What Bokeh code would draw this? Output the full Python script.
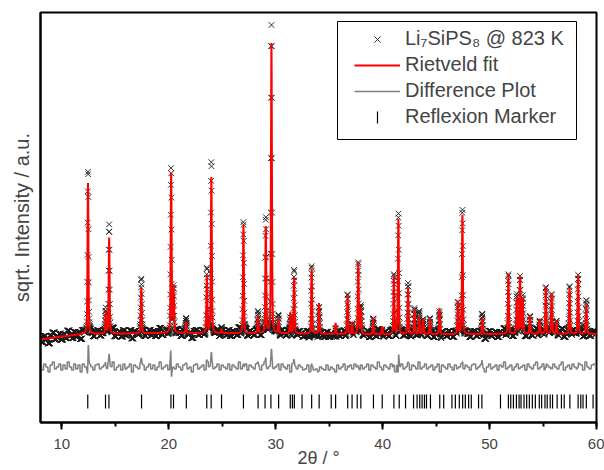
import numpy as np
from bokeh.plotting import figure
from bokeh.models import (Range1d, FixedTicker, SingleIntervalTicker, Legend, LegendItem,
                          BoxAnnotation)
from bokeh.embed import file_html
from bokeh.resources import INLINE

# ---------------- data ----------------
# background of the pattern (sqrt intensity, arbitrary units)
bg_pos = [8, 10, 12, 16, 20, 30, 40, 50, 60]
bg_level = [83, 86, 88.5, 89, 89.5, 89, 88, 88.5, 88.5]

# reflections: position (2theta), calculated and observed heights above background
peak_pos = [12.44, 14.10, 14.42, 17.43, 20.22, 20.45, 21.62, 23.56, 23.98, 24.93,
            26.98, 28.35, 29.07, 29.60, 30.26, 31.36, 31.72, 33.36, 34.05, 35.60,
            36.72, 37.15, 37.72, 37.97, 39.12, 39.95, 41.05, 41.47, 42.38, 42.98,
            43.42, 43.78, 44.42, 45.32, 47.04, 47.46, 49.32, 51.76, 52.55, 52.85,
            53.10, 53.78, 54.68, 55.26, 55.80, 56.26, 57.48, 58.28, 59.05]
calc_amp = [151, 21, 96, 46, 161, 45, 11, 58, 157, 4,
            109, 17, 107, 290, 15, 21, 57, 65, 31, 11,
            39, 12, 72, 26, 16, 8, 58, 116, 46, 25,
            18, 15, 16, 26, 33, 120, 16, 60, 36, 58,
            36, 18, 15, 47, 41, 13, 46, 59, 29]
obs_amp = [166, 24, 106, 52, 163, 45, 12, 60, 170, 4,
           112, 22, 111, 305, 16, 21, 64, 68, 32, 11,
           40, 12, 75, 26, 16, 8, 60, 119, 48, 26,
           18, 15, 16, 26, 34, 122, 22, 60, 36, 59,
           36, 18, 15, 50, 42, 13, 46, 61, 29]
obs_shift = [0.006, 0, 0, 0, -0.006, 0, 0, 0, 0, 0,
             0, 0, 0, 0, 0, 0, 0, 0, 0, 0,
             0, 0, 0, 0, 0, 0, 0, 0.006, 0, 0,
             0, 0, 0, 0, 0, 0, 0, 0, 0, 0,
             0, 0, 0, 0, 0, 0, 0, 0, 0]

# scatter of the measured points about the fit, one value per 0.2 deg (8.0 ... 60.0)
noise = [2, -3, 3, 0, -5, 2, 5, -2, 0, 3,
         -3, 2, -2, 5, 0, -3, 3, -2, 2, -5,
         3, 0, -2, 2, 0, -3, 2, 3, -2, 0,
         2, -2, 3, 0, 5, -3, 0, 2, -3, 3,
         -2, 0, 3, -5, 2, 0, -2, 3, 2, -3,
         0, 3, -2, 2, -3, 0, 5, -2, 0, 2,
         -3, 2, 0, -2, 3, 0, -3, 2, 3, -2,
         0, -5, 2, 3, -2, 0, 2, -3, 5, 0,
         2, -2, 0, 3, -3, 2, 0, -2, 3, -3,
         2, 0, -2, 5, -2, 0, 3, -3, 2, 0,
         -2, 3, 0, -3, 2, 5, -2, 0, 3, -2,
         0, 2, -3, 3, 0, -2, 2, -5, 3, 0,
         -2, 2, 0, -3, -2, 2, -5, 0, -3, -2,
         -5, 0, -2, -3, 2, -3, 0, -2, -5, 2,
         -2, 0, 3, -3, 0, 2, -2, 3, 0, -3,
         2, -2, 0, 3, -3, 2, 0, -2, 5, 0,
         -3, 2, 0, -2, 3, 0, -5, 2, 0, 3,
         -2, 0, 3, -3, 2, 0, -2, 5, -2, 0,
         3, -2, 0, 2, -3, 0, 3, -5, 2, 0,
         -2, 3, 0, -3, 2, -2, 0, 3, -2, 2,
         0, -3, 2, 3, -2, 0, 2, -2, -5, 0,
         3, -2, 0, 2, -3, 2, 0, 5, -2, 0,
         2, -3, 0, 3, -2, 0, 2, -3, 3, 0,
         -2, 2, 5, -2, 0, 3, -3, 2, 0, -2,
         3, 0, -2, 2, 5, -3, 0, 2, -2, 3,
         0, -2, 3, 2, -3, 5, 0, -2, 2, 3,
         0]

# Bragg reflection positions (markers)
reflex_pos = [12.42, 14.08, 14.40, 17.45, 20.20, 20.44, 21.64, 23.55, 23.96, 24.93,
              26.98, 28.35, 29.00, 29.55, 30.27, 31.36, 31.56, 31.74, 32.46, 33.36,
              34.06, 35.19, 35.60, 36.73, 37.14, 37.62, 37.96, 39.14, 39.96, 41.05,
              41.55, 42.14, 42.89, 43.22, 43.47, 43.69, 43.91, 44.10, 44.47, 45.34,
              45.71, 46.48, 46.80, 47.17, 47.48, 47.73, 48.04, 48.29, 48.97, 49.28,
              51.02, 51.76, 51.98, 52.23, 52.51, 52.76, 52.94, 53.22, 53.47, 53.72,
              54.00, 54.28, 54.65, 54.87, 55.18, 55.39, 55.67, 55.89, 56.32, 56.72,
              56.98, 57.51, 58.28, 58.53, 58.74, 59.05, 59.68]

diff_level = 55.5
marker_level = 21

# ---------------- profile ----------------
tt = np.arange(8.0, 60.0 + 1e-9, 0.015)
fwhm = 0.10
eta = 0.4


def profile(x, c):
    d = (x - c) / (fwhm / 2)
    return eta / (1 + d * d) + (1 - eta) * np.exp(-np.log(2) * d * d)


bg = np.interp(tt, bg_pos, bg_level)
calc = bg.copy()
obs = bg.copy()
for c, a_c, a_o, s in zip(peak_pos, calc_amp, obs_amp, obs_shift):
    calc += a_c * profile(tt, c)
    obs += a_o * profile(tt, c + s)
idx = np.clip(np.round((tt - 8.0) / 0.2).astype(int), 0, len(noise) - 1)
obs += np.array(noise, dtype=float)[idx]
diff = diff_level + (obs - calc)

# ---------------- figure ----------------
FONT = "Liberation Sans"
W, H = 604, 470
BL, BR, BT, BB = 40, 8, 12, 48
X0, X1, Y0, Y1 = 8, 60, 0, 410
fw = W - BL - BR
fh = H - BT - BB
p = figure(width=W, height=H, output_backend="svg", toolbar_location=None,
           x_range=Range1d(X0, X1), y_range=Range1d(Y0, Y1),
           min_border_left=BL, min_border_right=BR, min_border_top=BT, min_border_bottom=BB)
p.xgrid.visible = False
p.ygrid.visible = False
p.outline_line_color = "black"
p.outline_line_width = 2
p.background_fill_color = "white"
p.border_fill_color = "white"

r_obs = p.scatter(tt, obs, marker="x", size=8, line_color="#1a1a1a", line_width=0.9)
r_fit = p.line(tt, calc, line_color="#ff0000", line_width=2)
r_diff = p.line(tt, diff, line_color="#808080", line_width=1.5)
p.scatter(reflex_pos, [marker_level] * len(reflex_pos), marker="dash", angle=np.pi / 2,
          size=14, line_color="black", line_width=1.2)

xa = p.xaxis[0]
xa.ticker = SingleIntervalTicker(interval=10, num_minor_ticks=2)
xa.axis_line_width = 2
xa.major_tick_line_width = 2
xa.minor_tick_line_width = 2
xa.major_tick_out = 7
xa.major_tick_in = 0
xa.minor_tick_out = 4
xa.minor_tick_in = 0
xa.major_label_text_font = FONT
xa.major_label_text_font_size = "15px"
xa.major_label_standoff = 9
xa.axis_label = "2θ / °"
xa.axis_label_text_font = FONT
xa.axis_label_text_font_size = "18px"
xa.axis_label_text_font_style = "normal"
xa.axis_label_standoff = -4

ya = p.yaxis[0]
ya.ticker = FixedTicker(ticks=[])
ya.axis_line_width = 2
ya.major_tick_out = 0
ya.major_tick_in = 0
ya.minor_tick_out = 0
ya.minor_tick_in = 0
ya.major_label_standoff = 0
ya.axis_label = "sqrt. Intensity / a.u."
ya.axis_label_text_font = FONT
ya.axis_label_text_font_size = "20px"
ya.axis_label_text_font_style = "normal"
ya.axis_label_standoff = 8


def px_to_x(px):
    return X0 + (px - BL) * (X1 - X0) / fw


def px_to_y(py):
    return Y0 + (BT + fh - py) * (Y1 - Y0) / fh


# legend (the frame and the vertical reflexion tick are drawn by hand)
LEG_X, LEG_Y = 303, 283          # bottom-left corner of the item block, px from the frame's bottom-left
GW, GH, SP, PAD = 46, 22, 3, 11
dummy = p.scatter([reflex_pos[0]], [marker_level], marker="dash", line_alpha=0, fill_alpha=0)
legend = Legend(items=[
    LegendItem(label="Li₇SiPS₈ @ 823 K", renderers=[r_obs]),
    LegendItem(label="Rietveld fit", renderers=[r_fit]),
    LegendItem(label="Difference Plot", renderers=[r_diff]),
    LegendItem(label="Reflexion Marker", renderers=[dummy]),
], location=(LEG_X, LEG_Y))
legend.label_text_font = FONT
legend.label_text_font_size = "20px"
legend.glyph_width = GW
legend.glyph_height = GH
legend.label_height = GH
legend.spacing = SP
legend.padding = PAD
legend.margin = 0
legend.label_standoff = 5
legend.border_line_alpha = 0
legend.background_fill_alpha = 0
p.add_layout(legend)

box = BoxAnnotation(left=px_to_x(337), right=px_to_x(576), top=px_to_y(21), bottom=px_to_y(139),
                    fill_alpha=0, line_color="black", line_width=1, line_alpha=1)
p.add_layout(box)

leg_h = 4 * GH + 3 * SP + 2 * PAD
cx_px = BL + LEG_X + PAD + GW / 2
cy_px = BT + fh - (LEG_Y + leg_h - PAD - 3 * (GH + SP) - GH / 2)
tick_leg = p.scatter([px_to_x(cx_px)], [px_to_y(cy_px)], marker="dash", angle=np.pi / 2, size=12,
                     line_color="black", line_width=1.2)
tick_leg.level = "overlay"

open("out.html", "w").write(file_html(p, INLINE))
